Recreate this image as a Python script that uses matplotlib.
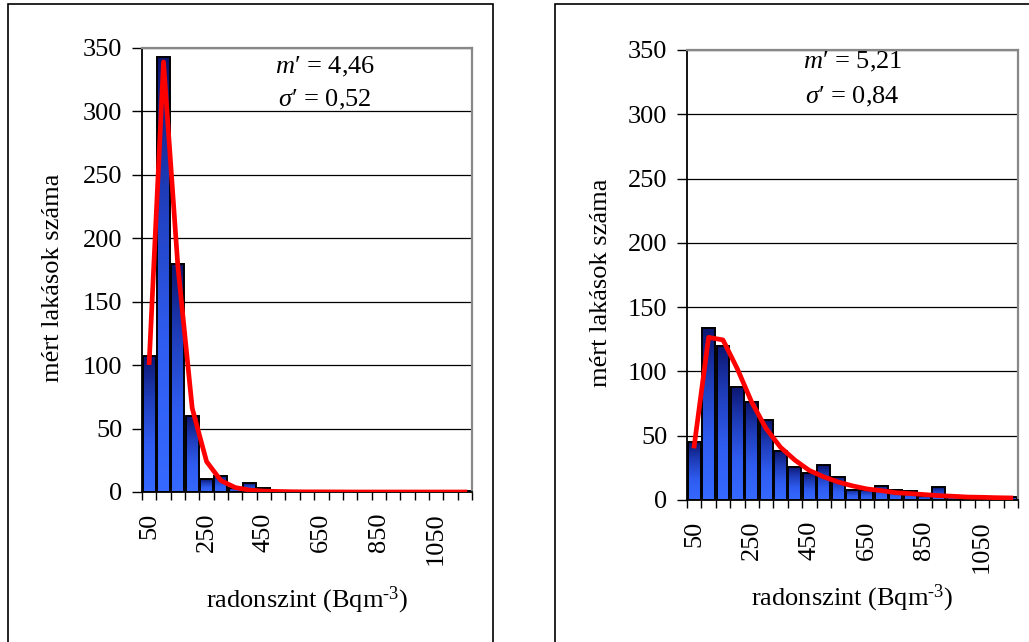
import matplotlib
matplotlib.use("Agg")
import matplotlib.pyplot as plt
import numpy as np
from matplotlib.colors import LinearSegmentedColormap
from matplotlib.patches import Rectangle

plt.rcParams['font.family'] = ['Liberation Serif', 'DejaVu Serif']
plt.rcParams['mathtext.fontset'] = 'custom'
plt.rcParams['mathtext.rm'] = 'Liberation Serif'
plt.rcParams['mathtext.it'] = 'Liberation Serif:italic'

# bins of 50 Bq/m3, labels 50..1150
bins = list(range(50, 1200, 50))
tick_labels = ['50', '250', '450', '650', '850', '1050']

# left histogram (measured) and fitted lognormal
left_counts = [107, 343, 180, 60, 10, 13, 3, 7, 3, 1, 1, 0, 1, 0, 0, 0, 0, 0, 0, 0, 0, 0, 1]
left_fit = [102, 339, 178, 66, 24, 9, 3.5, 1.5, 0.7, 0.4, 0.2, 0.1, 0.1, 0.05,
            0, 0, 0, 0, 0, 0, 0, 0, 0]
left_text = ["$m$\u2032 = 4,46", "$\\sigma$\u2032 = 0,52"]

# right histogram and fit
right_counts = [45, 134, 120, 88, 76, 62, 38, 26, 21, 27, 18, 8, 8, 11, 8, 7, 3, 10,
                2, 2, 1, 1, 2]
right_fit = [42, 126.5, 124.5, 102, 76, 55.5, 41, 31, 23, 18, 14, 11, 8.6, 7.3, 5.7,
             5, 4.2, 3.4, 2.9, 2.3, 2.1, 1.8, 1.6]
right_text = ["$m$\u2032 = 5,21", "$\\sigma$\u2032 = 0,84"]

W, H = 1029, 642
FS = 19
fig = plt.figure(figsize=(W / 100, H / 100), dpi=100)

bar_cmap = LinearSegmentedColormap.from_list(
    'barfill', [(0, '#3569ff'), (0.35, '#2f5cf0'), (0.7, '#1e3cb8'), (1, '#0c1670')])
grad = np.linspace(0, 1, 128).reshape(-1, 1)


def px_axes(x0, y0, x1, y1):
    return fig.add_axes([x0 / W, 1 - y1 / H, (x1 - x0) / W, (y1 - y0) / H])


def draw_hist(ax, counts, fit, texts, tx, ty1, ty2, ylab_x, xlab_y):
    x = np.arange(len(counts))
    w = 0.9
    for xi, c in zip(x, counts):
        if c > 0:
            ax.imshow(grad, cmap=bar_cmap, origin='lower', aspect='auto',
                      extent=[xi - w / 2, xi + w / 2, 0, c], zorder=1,
                      interpolation='bilinear')
    ax.bar(x, counts, width=w, facecolor='none', edgecolor='black', linewidth=1.4, zorder=2)
    ax.plot(x, fit, color='#ff0000', linewidth=3.4, zorder=3)

    ax.set_xlim(-0.5, len(counts) - 0.5)
    ax.set_ylim(0, 350)
    ax.set_yticks(range(0, 351, 50))
    ax.yaxis.grid(True, color='black', linewidth=0.9)
    ax.set_axisbelow(True)

    ax.set_xticks(np.arange(-0.5, len(counts), 1))
    ax.set_xticklabels([])
    ax.set_xticks(np.arange(0, len(counts), 4), labels=tick_labels, minor=True)
    ax.tick_params(axis='x', which='major', direction='out', length=6, width=1, color='black')
    ax.tick_params(axis='x', which='minor', length=0, pad=15, labelsize=FS, labelrotation=90)
    ax.tick_params(axis='y', direction='out', length=7, width=1, pad=7, labelsize=FS)

    for s in ['left', 'bottom']:
        ax.spines[s].set_color('black')
        ax.spines[s].set_linewidth(1.3)
    for s in ['top', 'right']:
        ax.spines[s].set_color('#888888')
        ax.spines[s].set_linewidth(1.6)

    ax.set_ylabel('mért lakások száma', fontsize=FS, va='center')
    ax.yaxis.set_label_coords(ylab_x, 0.482)
    ax.set_xlabel('radonszint (Bqm$^{\\text{-3}}$)', fontsize=FS, va='center')
    ax.xaxis.set_label_coords(0.5, xlab_y)

    ax.text(tx, ty1, texts[0], transform=ax.transAxes, ha='center', va='center', fontsize=FS)
    ax.text(tx, ty2, texts[1], transform=ax.transAxes, ha='center', va='center', fontsize=FS)


ax1 = px_axes(142, 48, 472, 492)
draw_hist(ax1, left_counts, left_fit, left_text, 0.555, 0.957, 0.883, -0.27, -0.243)

ax2 = px_axes(687, 50, 1018, 500)
draw_hist(ax2, right_counts, right_fit, right_text, 0.50, 0.973, 0.896, -0.26, -0.218)

# outer frames around each chart
fig.patches.append(Rectangle((8 / W, -0.02), (493 - 8) / W, 1.02 - 4 / H,
                             transform=fig.transFigure, fill=False,
                             edgecolor='black', linewidth=1.2))
fig.patches.append(Rectangle((555 / W, -0.02), (1040 - 555) / W, 1.02 - 4 / H,
                             transform=fig.transFigure, fill=False,
                             edgecolor='black', linewidth=1.2))

fig.savefig('out.png', dpi=100)
